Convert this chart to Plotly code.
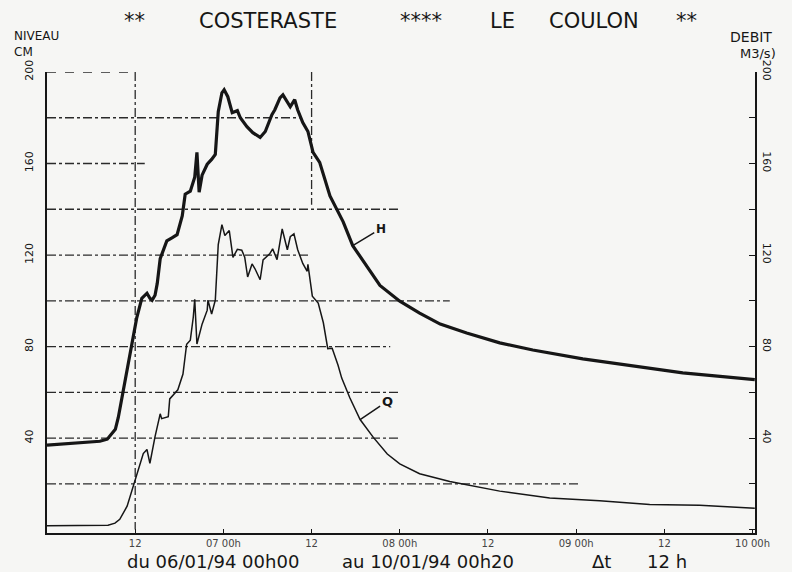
import plotly.graph_objects as go

# ---------------- data (hours after 06/01/94 00h00) ----------------
hours_H = [0.0, 7.2, 8.2, 8.8, 9.3, 9.7, 10.2, 10.9, 11.6, 12.2, 12.9, 13.6, 14.0, 14.3, 14.7,
           15.0, 15.4, 15.8, 16.3, 17.0, 17.7, 18.4, 18.8, 19.5, 20.1, 20.4, 20.7, 21.1, 21.8,
           22.4, 22.9, 23.3, 23.8, 24.1, 24.6, 25.2, 25.9, 26.3, 27.2, 28.0, 29.0, 29.7, 30.6,
           31.0, 31.7, 32.1, 32.7, 33.1, 33.7, 34.1, 34.8, 35.5, 36.2, 37.1, 38.5, 38.9, 40.3,
           41.6, 43.5, 45.3, 48.0, 50.7, 53.5, 57.1, 61.6, 66.1, 72.9, 79.7, 86.5, 96.3]
level_H = [36.9, 38.6, 39.5, 41.6, 43.8, 49.0, 57.7, 69.4, 80.7, 92.4, 101.1, 103.3, 101.1, 100.2, 102.4,
           107.6, 118.4, 121.5, 126.2, 127.5, 128.9, 137.1, 146.6, 147.9, 154.0, 164.9, 147.5, 154.9, 159.7,
           161.8, 164.0, 182.6, 190.9, 192.2, 189.2, 182.2, 183.1, 180.0, 176.1, 173.5, 171.4, 174.0, 181.3,
           183.5, 188.7, 190.0, 187.0, 184.8, 187.9, 183.5, 177.9, 174.0, 164.9, 160.5, 145.8, 143.2, 134.5,
           124.1, 115.4, 106.7, 99.8, 94.6, 89.8, 85.9, 81.6, 78.5, 74.6, 71.6, 68.5, 65.5]

hours_Q = [0.0, 8.3, 9.25, 9.9, 10.9, 12.0, 13.1, 13.6, 14.0, 14.7, 15.4, 15.6, 16.5, 16.7, 17.8,
           18.5, 19.0, 19.5, 19.9, 20.1, 20.4, 21.1, 21.8, 21.9, 22.4, 22.9, 23.1, 23.3, 23.8,
           24.2, 24.8, 25.3, 25.9, 26.5, 26.9, 27.3, 27.9, 28.3, 29.0, 29.4, 30.3, 30.7, 31.3,
           32.0, 32.7, 33.1, 33.6, 34.1, 34.8, 35.4, 35.5, 36.1, 36.9, 37.6, 38.2, 38.8, 39.6,
           40.1, 41.2, 42.6, 44.4, 46.3, 48.0, 50.7, 54.8, 61.6, 68.4, 75.2, 82.0, 88.8, 96.3]
flow_Q = [1.7, 1.9, 2.8, 4.5, 10.2, 21.9, 33.2, 35.0, 28.9, 40.6, 50.6, 48.5, 49.3, 57.1, 61.1,
          68.0, 81.0, 82.8, 92.8, 100.6, 81.1, 89.8, 95.9, 100.3, 94.2, 100.3, 111.5, 124.6, 133.3,
          128.5, 130.7, 119.0, 122.5, 122.1, 119.1, 110.4, 116.1, 114.0, 109.2, 117.9, 120.5, 122.7, 118.0,
          131.4, 122.3, 128.0, 129.3, 122.4, 116.3, 112.9, 115.9, 102.0, 99.0, 90.4, 79.1, 79.2, 71.8,
          66.2, 57.6, 48.1, 40.3, 33.0, 28.7, 24.4, 21.0, 16.8, 13.8, 12.6, 11.0, 10.6, 9.3]

x_tick_hours = [12, 24, 36, 48, 60, 72, 84, 96]
x_tick_labels = ["12", "07 00h", "12", "08 00h", "12", "09 00h", "12", "10 00h"]
y_tick_vals = [40, 80, 120, 160, 200]
x_end_hours = 96.33

title_tokens = ["**", "COSTERASTE", "****", "LE", "COULON", "**"]
caption_parts = ["du 06/01/94 00h00", "au 10/01/94 00h20", "Δt", "12 h"]

# partial dash-dot reference lines drawn on the plotter sheet
grid_levels = [20, 40, 60, 80, 100, 120, 140, 160, 180]
grid_end_hours = [72.5, 48.0, 48.0, 46.7, 54.8, 35.8, 48.0, 13.3, 34.4]
guide_hours = [12, 36]
guide_low = [0, 142]

# layout helpers (pixel positions on the 792x572 page)
L, R, T, B = 47, 37, 72, 39
PW, PH = 792 - L - R, 572 - T - B
def px(xp): return (xp - L) / PW
def py(yp): return (572 - B - yp) / PH
title_centers = [134, 268, 421, 502, 594, 686]
caption_lefts = [125, 340, 590, 645]

INK = "#161616"
FONT = "DejaVu Sans"

fig = go.Figure()

for lvl, end in zip(grid_levels, grid_end_hours):
    fig.add_trace(go.Scatter(x=[0, end], y=[lvl, lvl], mode="lines",
                             line=dict(color="#2a2a2a", width=1.3, dash="dashdot"),
                             hoverinfo="skip", showlegend=False))

for gx, low in zip(guide_hours, guide_low):
    fig.add_trace(go.Scatter(x=[gx, gx], y=[200, low], mode="lines",
                             line=dict(color="#2a2a2a", width=1.3, dash="dashdot"),
                             hoverinfo="skip", showlegend=False))

# top frame segment
fig.add_trace(go.Scatter(x=[0, guide_hours[0]], y=[200, 200], mode="lines",
                         line=dict(color="#2a2a2a", width=1.3, dash="dash"),
                         hoverinfo="skip", showlegend=False))

fig.add_trace(go.Scatter(x=hours_H, y=level_H, mode="lines", name="H",
                         line=dict(color=INK, width=3.2), showlegend=False))
fig.add_trace(go.Scatter(x=hours_Q, y=flow_Q, mode="lines", name="Q", yaxis="y2",
                         line=dict(color=INK, width=1.5), showlegend=False))

fig.update_layout(
    width=792, height=572,
    margin=dict(l=L, r=R, t=T, b=B),
    paper_bgcolor="#f6f6f4", plot_bgcolor="#f6f6f4",
    font=dict(family=FONT, color=INK),
    xaxis=dict(range=[0, x_end_hours], tickvals=x_tick_hours, ticktext=x_tick_labels,
               ticks="inside", ticklen=4, tickcolor=INK, showgrid=False, zeroline=False,
               showline=True, linecolor=INK, linewidth=2, automargin=False,
               tickfont=dict(size=10, color="#444444"), ticklabelstandoff=0),
    yaxis=dict(range=[-1.5, 200], tickvals=y_tick_vals, tickangle=-90, ticks="",
               showgrid=False, zeroline=False, showline=True, linecolor=INK, linewidth=2,
               automargin=False, tickfont=dict(size=11, color=INK), ticklabelstandoff=8),
    yaxis2=dict(range=[-1.5, 200], overlaying="y", side="right", tickvals=y_tick_vals,
                tickangle=90, ticks="inside", ticklen=6, tickcolor=INK, automargin=False,
                minor=dict(dtick=20, tick0=0, ticks="inside", ticklen=6, tickcolor=INK),
                showgrid=False, zeroline=False, showline=True, linecolor=INK, linewidth=2,
                tickfont=dict(size=11, color=INK), ticklabelstandoff=2),
)

ann = []
for tok, cx in zip(title_tokens, title_centers):
    ann.append(dict(text=tok, xref="paper", yref="paper", x=px(cx), y=py(21), showarrow=False,
                    font=dict(size=21, color=INK), xanchor="center", yanchor="middle"))
for part, lx in zip(caption_parts, caption_lefts):
    ann.append(dict(text=part, xref="paper", yref="paper", x=px(lx), y=py(561), showarrow=False,
                    font=dict(size=18, color=INK), xanchor="left", yanchor="middle"))
ann += [
    dict(text="NIVEAU<br>CM", xref="paper", yref="paper", x=px(12), y=py(27), showarrow=False,
         font=dict(size=12, color=INK), xanchor="left", yanchor="top", align="left"),
    dict(text="DEBIT", xref="paper", yref="paper", x=px(728), y=py(37), showarrow=False,
         font=dict(size=14, color=INK), xanchor="left", yanchor="middle"),
    dict(text="M3/s)", xref="paper", yref="paper", x=px(738), y=py(53), showarrow=False,
         font=dict(size=13, color=INK), xanchor="left", yanchor="middle"),
    dict(text="<b>H</b>", x=hours_H[57], y=level_H[57], xref="x", yref="y",
         showarrow=True, arrowhead=0, arrowwidth=1.5, arrowcolor=INK, ax=28, ay=-17,
         font=dict(size=12, color=INK)),
    dict(text="<b>Q</b>", x=hours_Q[59], y=flow_Q[59], xref="x", yref="y",
         showarrow=True, arrowhead=0, arrowwidth=1.5, arrowcolor=INK, ax=27, ay=-18,
         font=dict(size=13, color=INK)),
    dict(text="", x=0, y=200.5, xref="x", yref="y", showarrow=True, arrowhead=2,
         arrowsize=1, arrowwidth=1.5, arrowcolor=INK, ax=0, ay=10),
    dict(text="", x=x_end_hours, y=200.5, xref="x", yref="y", showarrow=True, arrowhead=2,
         arrowsize=1, arrowwidth=1.5, arrowcolor=INK, ax=0, ay=10),
]
fig.update_layout(annotations=ann)

fig.write_html("out.html", config={"displayModeBar": False},
               post_script="document.body.style.margin='0';document.body.style.overflow='hidden';")
